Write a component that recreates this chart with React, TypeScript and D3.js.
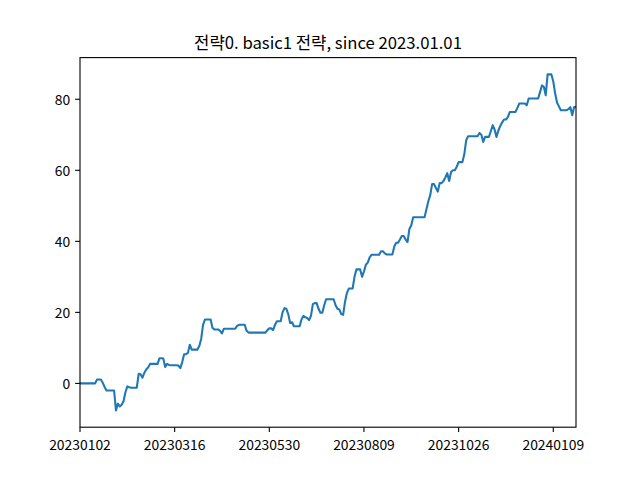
import React from "react";
import * as d3 from "d3";

const titleText = "전략0. basic1 전략, since 2023.01.01";

// cumulative returns per trading day (index 0 = 20230102)
const values: number[] = [
  0, 0, 0, 0, 0, 0, 0, 0, 0, 1.1,
  1.1, 1.1, 0.2, -1, -2, -2, -2, -2, -2, -7.6,
  -5.7, -6.5, -6, -5, -2.5, -0.85, -1.1, -1.2, -1.2, -1.2,
  -1.2, 2.7, 2.6, 1.6, 3.0, 3.9, 4.5, 5.5, 5.5, 5.5,
  5.5, 5.5, 7.1, 7.1, 7.0, 4.6, 5.5, 5.2, 5.1, 5.1,
  5.1, 5.1, 5.0, 4.3, 6, 8.2, 8.2, 8.6, 10.9, 9.5,
  9.5, 9.5, 9.5, 10.5, 12.5, 16.5, 18, 18, 18, 18,
  15.6, 15.2, 15.2, 15.2, 14.8, 14.1, 15.4, 15.4, 15.4, 15.4,
  15.4, 15.4, 15.4, 16.2, 16.5, 16.5, 16.5, 16.5, 14.8, 14.3,
  14.3, 14.3, 14.3, 14.3, 14.3, 14.3, 14.3, 14.3, 14.3, 15,
  15.5, 15.5, 15, 16.5, 17.5, 17.5, 17.5, 20, 21.2, 21,
  19.5, 17, 17.2, 16.1, 16.1, 16.1, 16.1, 18, 19, 18.6,
  18.4, 17.8, 19, 22.3, 22.6, 22.6, 21, 19.9, 19.9, 22,
  23.7, 23.7, 23.7, 23.7, 23.7, 22, 21, 20.8, 19.5, 19.3,
  23, 25.5, 26.7, 26.7, 26.7, 30, 32.1, 32.1, 32.1, 30,
  31.5, 33.4, 34, 35.5, 36.2, 36.2, 36.2, 36.2, 36.2, 37.2,
  37.2, 36.6, 36.3, 36.3, 36.3, 36.3, 38.5, 39.6, 39.6, 40.5,
  41.5, 41.5, 40.5, 39.8, 43.5, 44.5, 46.8, 46.8, 46.8, 46.8,
  46.8, 46.8, 46.8, 49, 51.3, 53, 56.1, 56.1, 55, 54,
  56.4, 56.4, 57, 58, 59.2, 57, 59.5, 60, 60, 61,
  62.3, 62.3, 62.3, 64.5, 68.5, 69.6, 69.6, 69.6, 69.6, 69.6,
  69.6, 70.5, 70, 68, 69.4, 69.4, 69.4, 71, 72.7, 71.5,
  69.4, 71.2, 72.5, 73.5, 74.3, 74.3, 75, 76.4, 76.4, 76.4,
  76.4, 77.5, 78.8, 78.8, 78.8, 78.8, 78.3, 80.2, 80.2, 80.2,
  80.2, 80.2, 80.2, 82, 83.9, 83.5, 81.1, 87, 87, 87,
  85, 81.6, 79, 78, 76.9, 76.9, 76.9, 76.9, 77.2, 77.8,
  75.5, 77.8, 77.8,
];

const xTickIndex: number[] = [0, 50, 100, 150, 200, 250];
const xTickLabels: string[] = ["20230102", "20230316", "20230530", "20230809", "20231026", "20240109"];
const yTicks: number[] = [0, 20, 40, 60, 80];

const W = 640;
const H = 480;
const left = 80;
const right = 576;
const top = 57.6;
const bottom = 427.2;
const FONT = "'Noto Sans CJK KR', 'Noto Sans', sans-serif";
const TICK = 4.86;

export default function App() {
  const x = d3.scaleLinear().domain([0, values.length - 1]).range([left, right]);
  const ymin = d3.min(values) as number;
  const ymax = d3.max(values) as number;
  const pad = (ymax - ymin) * 0.05;
  const y = d3.scaleLinear().domain([ymin - pad, ymax + pad]).range([bottom, top]);
  const line = d3
    .line<number>()
    .x((_, i) => x(i))
    .y((d) => y(d));

  return (
    <svg
      width={W}
      height={H}
      style={{ position: "absolute", left: 0, top: 0, background: "#fff" }}
      fontFamily={FONT}
    >
      <rect x={0} y={0} width={W} height={H} fill="#fff" />
      <defs>
        <clipPath id="plotclip">
          <rect x={left} y={top} width={right - left} height={bottom - top} />
        </clipPath>
      </defs>
      <path
        d={line(values) || ""}
        fill="none"
        stroke="#1f77b4"
        strokeWidth={2.08}
        strokeLinejoin="round"
        strokeLinecap="butt"
        clipPath="url(#plotclip)"
      />
      <rect
        x={left}
        y={top}
        width={right - left}
        height={bottom - top}
        fill="none"
        stroke="#000"
        strokeWidth={1.1}
      />
      {xTickIndex.map((t, k) => (
        <g key={"xt" + k}>
          <line x1={x(t)} x2={x(t)} y1={bottom} y2={bottom + TICK} stroke="#000" strokeWidth={1.1} />
          <text x={x(t)} y={bottom + TICK + 4.9} textAnchor="middle" dominantBaseline="hanging" fontSize={13.9} fill="#000">
            {xTickLabels[k]}
          </text>
        </g>
      ))}
      {yTicks.map((t) => (
        <g key={"yt" + t}>
          <line x1={left - TICK} x2={left} y1={y(t)} y2={y(t)} stroke="#000" strokeWidth={1.1} />
          <text x={left - TICK - 4.9} y={y(t)} textAnchor="end" dominantBaseline="central" fontSize={13.9} fill="#000">
            {t}
          </text>
        </g>
      ))}
      <text x={(left + right) / 2} y={top - 8.3} textAnchor="middle" fontSize={16.7} fill="#000">
        {titleText}
      </text>
    </svg>
  );
}
